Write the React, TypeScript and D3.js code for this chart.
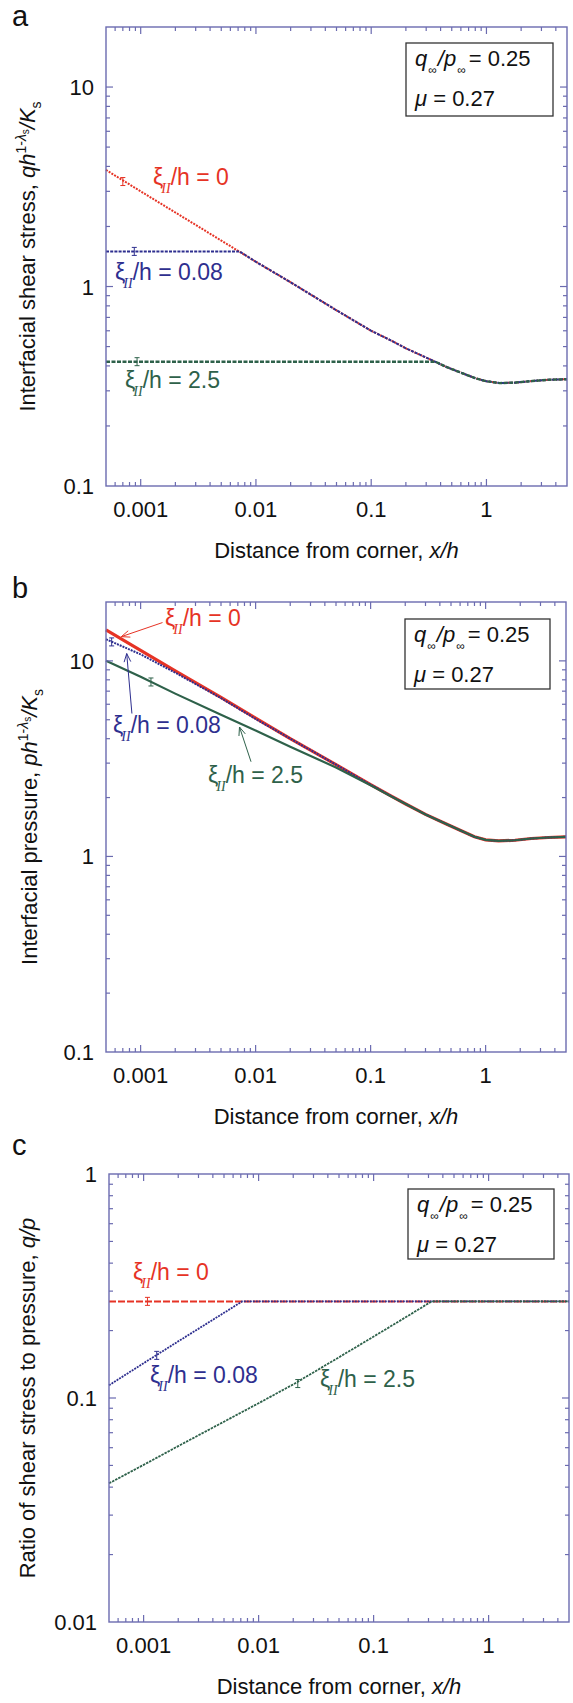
import React from "react";
import * as d3 from "d3";

// ---- data (x = distance from corner, x/h) ----

// a: interfacial shear stress
const aX0 = [0.0005, 0.001, 0.002, 0.005, 0.01, 0.02, 0.05, 0.1, 0.15, 0.2, 0.3, 0.45, 0.6, 0.8, 1, 1.3, 1.8, 2.5, 3.5, 5];
const aY0 = [3.84, 3.0, 2.35, 1.7, 1.33, 1.05, 0.76, 0.6, 0.535, 0.49, 0.44, 0.395, 0.37, 0.347, 0.335, 0.328, 0.33, 0.336, 0.341, 0.343];
const aX08 = [0.0005, 0.0072, 0.01, 0.02, 0.05, 0.1, 0.15, 0.2, 0.3, 0.45, 0.6, 0.8, 1, 1.3, 1.8, 2.5, 3.5, 5];
const aY08 = [1.5, 1.5, 1.33, 1.05, 0.76, 0.6, 0.535, 0.49, 0.44, 0.395, 0.37, 0.347, 0.335, 0.328, 0.33, 0.336, 0.341, 0.343];
const aX25 = [0.0005, 0.36, 0.45, 0.6, 0.8, 1, 1.3, 1.8, 2.5, 3.5, 5];
const aY25 = [0.42, 0.42, 0.395, 0.37, 0.347, 0.335, 0.328, 0.33, 0.336, 0.341, 0.343];

// b: interfacial pressure
const bX = [0.0005, 0.001, 0.002, 0.005, 0.01, 0.02, 0.05, 0.1, 0.15, 0.2, 0.3, 0.45, 0.6, 0.8, 1, 1.3, 1.8, 2.5, 3.5, 5];
const bY0 = [14.4, 11.3, 8.9, 6.5, 5.1, 4.0, 2.95, 2.33, 2.04, 1.86, 1.64, 1.47, 1.36, 1.26, 1.215, 1.2, 1.21, 1.235, 1.25, 1.26];
const bY08 = [12.9, 10.8, 8.7, 6.45, 5.05, 4.0, 2.95, 2.33, 2.04, 1.86, 1.64, 1.47, 1.36, 1.26, 1.215, 1.2, 1.21, 1.235, 1.25, 1.26];
const bY25 = [10.0, 8.3, 6.8, 5.3, 4.4, 3.64, 2.85, 2.31, 2.03, 1.86, 1.64, 1.47, 1.36, 1.26, 1.215, 1.2, 1.21, 1.235, 1.25, 1.26];

// c: ratio q/p
const cX0 = [0.0005, 5];
const cY0 = [0.27, 0.27];
const cX08 = [0.0005, 0.001, 0.002, 0.005, 0.0072, 5];
const cY08 = [0.114, 0.143, 0.179, 0.24, 0.27, 0.27];
const cX25 = [0.0005, 0.001, 0.002, 0.005, 0.01, 0.02, 0.05, 0.1, 0.2, 0.32, 5];
const cY25 = [0.0416, 0.0503, 0.061, 0.0784, 0.0948, 0.115, 0.152, 0.188, 0.233, 0.27, 0.27];

// error-bar glyphs sitting on the curves [x, y]
const aErr0 = [0.0007, 3.36];
const aErr08 = [0.00088, 1.5];
const aErr25 = [0.00093, 0.42];
const bErr08 = [0.00056, 12.5];
const bErr25 = [0.00123, 7.8];
const cErr0 = [0.00108, 0.27];
const cErr08 = [0.0013, 0.155];
const cErr25 = [0.0219, 0.116];

// arrows in b: [tailX, tailY, tipX, tipY]
const bArrow0 = [0.00155, 15.7, 0.00068, 13.3];
const bArrow08 = [0.00084, 5.38, 0.000757, 10.9];
const bArrow25 = [0.00912, 3.05, 0.00724, 4.59];

const xDomain: [number, number] = [0.0005, 5];
const xTickVals = [0.001, 0.01, 0.1, 1];
const xTickLabels = ["0.001", "0.01", "0.1", "1"];

const FRAME = "#6b6bb0";
const RED = "#e63325";
const BLUE = "#2e2f8f";
const GREEN = "#2e614a";
const FONT = "'Liberation Sans', Arial, Helvetica, sans-serif";
const SERIF = "'Liberation Serif', 'Times New Roman', serif";

type Series = { xs: number[]; ys: number[]; color: string; width: number; dash?: string };

const XiLabel = ({ x, y, color, value }: any) => (
  <text x={x} y={y} fill={color} fontSize={23} fontFamily={FONT}>
    <tspan>ξ</tspan>
    <tspan fontFamily={SERIF} fontStyle="italic" fontSize={14} dy={8} dx={-2}>II</tspan>
    <tspan dy={-8}>/h = {value}</tspan>
  </text>
);

const Legend = ({ x, y, w, h }: any) => (
  <g>
    <rect x={x} y={y} width={w} height={h} fill="#fff" stroke="#333" strokeWidth={1.3} />
    <text x={x + 9} y={y + 23} fontSize={22} fontFamily={FONT} fill="#111">
      <tspan fontStyle="italic">q</tspan>
      <tspan fontSize={12} dy={8} dx={1}>∞</tspan>
      <tspan dy={-8} dx={1} fontStyle="italic">/p</tspan>
      <tspan fontSize={12} dy={8} dx={1}>∞</tspan>
      <tspan dy={-8} dx={3}>= 0.25</tspan>
    </text>
    <text x={x + 9} y={y + 63} fontSize={22} fontFamily={FONT} fill="#111">
      <tspan fontStyle="italic">μ</tspan>
      <tspan> = 0.27</tspan>
    </text>
  </g>
);

function Panel(props: any) {
  const { left, right, top, bottom, yDomain, yTickVals, yTickLabels, series, errs, letter, letterY, yLabel, yLabelX, children } = props;
  const x = d3.scaleLog().domain(xDomain).range([left, right]);
  const y = d3.scaleLog().domain(yDomain).range([bottom, top]);
  const line = d3
    .line<[number, number]>()
    .x((d) => x(d[0]))
    .y((d) => y(d[1]));

  const isMajor = (v: number) => Math.abs(Math.log10(v) - Math.round(Math.log10(v))) < 1e-6;
  const xt = x.ticks().filter((v) => v > xDomain[0] * 1.001 && v < xDomain[1] * 0.999);
  const yt = y.ticks().filter((v) => v > yDomain[0] * 1.001 && v < yDomain[1] * 0.999);

  return (
    <g>
      <text x={12} y={letterY} fontSize={29} fontFamily={FONT} fill="#111">
        {letter}
      </text>
      {series.map((s: Series, i: number) => (
        <path
          key={i}
          d={line(s.xs.map((v, j) => [v, s.ys[j]] as [number, number])) || ""}
          fill="none"
          stroke={s.color}
          strokeWidth={s.width}
          strokeDasharray={s.dash}
        />
      ))}
      {errs.map((e: any, i: number) => {
        const ex = x(e.p[0]);
        const ey = y(e.p[1]);
        return (
          <path
            key={i}
            d={`M${ex},${ey - 4}V${ey + 4}M${ex - 2.5},${ey - 4}H${ex + 2.5}M${ex - 2.5},${ey + 4}H${ex + 2.5}`}
            stroke={e.color}
            strokeWidth={1}
            fill="none"
          />
        );
      })}
      <rect x={left} y={top} width={right - left} height={bottom - top} fill="none" stroke={FRAME} strokeWidth={1.4} />
      {xt.map((v, i) => {
        const len = isMajor(v) ? 7 : 4;
        return (
          <g key={i} stroke={FRAME} strokeWidth={1.2}>
            <line x1={x(v)} x2={x(v)} y1={bottom} y2={bottom - len} />
            <line x1={x(v)} x2={x(v)} y1={top} y2={top + len} />
          </g>
        );
      })}
      {yt.map((v, i) => {
        const len = isMajor(v) ? 7 : 4;
        return (
          <g key={i} stroke={FRAME} strokeWidth={1.2}>
            <line x1={left} x2={left + len} y1={y(v)} y2={y(v)} />
            <line x1={right} x2={right - len} y1={y(v)} y2={y(v)} />
          </g>
        );
      })}
      {xTickVals.map((v, i) => (
        <text key={i} x={x(v)} y={bottom + 31} textAnchor="middle" fontSize={22} fontFamily={FONT} fill="#111">
          {xTickLabels[i]}
        </text>
      ))}
      {yTickVals.map((v: number, i: number) => (
        <text key={i} x={left - 12} y={y(v) + 8} textAnchor="end" fontSize={22} fontFamily={FONT} fill="#111">
          {yTickLabels[i]}
        </text>
      ))}
      <text x={(left + right) / 2} y={bottom + 72} textAnchor="middle" fontSize={22} fontFamily={FONT} fill="#111">
        Distance from corner, <tspan fontStyle="italic">x/h</tspan>
      </text>
      <text
        transform={`translate(${yLabelX},${(top + bottom) / 2}) rotate(-90)`}
        textAnchor="middle"
        fontSize={22}
        fontFamily={FONT}
        fill="#111"
      >
        {yLabel}
      </text>
      {children && children(x, y)}
    </g>
  );
}

function Arrow({ a, x, y, color }: any) {
  const x1 = x(a[0]);
  const y1 = y(a[1]);
  const x2 = x(a[2]);
  const y2 = y(a[3]);
  const ang = Math.atan2(y2 - y1, x2 - x1);
  const L = 9;
  const s = 0.38;
  const hx1 = x2 - L * Math.cos(ang - s);
  const hy1 = y2 - L * Math.sin(ang - s);
  const hx2 = x2 - L * Math.cos(ang + s);
  const hy2 = y2 - L * Math.sin(ang + s);
  return (
    <g stroke={color} strokeWidth={1} fill="none">
      <line x1={x1} y1={y1} x2={x2} y2={y2} />
      <path d={`M${hx1},${hy1}L${x2},${y2}L${hx2},${hy2}`} />
    </g>
  );
}

const stressLabel = () => (
  <>
    <tspan fontStyle="italic">h</tspan>
    <tspan fontSize={14} dy={-9}>1-</tspan>
    <tspan fontSize={14} fontStyle="italic">λ</tspan>
    <tspan fontSize={10} dy={3}>s</tspan>
    <tspan dy={6} fontStyle="italic">/K</tspan>
    <tspan fontSize={14} dy={6}>s</tspan>
  </>
);

export default function App() {
  return (
    <svg
      width={573}
      height={1703}
      viewBox="0 0 573 1703"
      style={{ position: "absolute", left: 0, top: 0, background: "#fff" }}
    >
      <rect width={573} height={1703} fill="#fff" />
      <Panel
        letter="a"
        letterY={26}
        left={106}
        right={567}
        top={27}
        bottom={486}
        yDomain={[0.1, 20]}
        yTickVals={[10, 1, 0.1]}
        yTickLabels={["10", "1", "0.1"]}
        yLabelX={35}
        yLabel={
          <>
            Interfacial shear stress, <tspan fontStyle="italic">q</tspan>
            {stressLabel()}
          </>
        }
        series={[
          { xs: aX0, ys: aY0, color: RED, width: 2, dash: "2 1.2" },
          { xs: aX08, ys: aY08, color: BLUE, width: 2, dash: "3 1.2" },
          { xs: aX25, ys: aY25, color: GREEN, width: 2.4, dash: "4 1.5" },
        ]}
        errs={[
          { p: aErr0, color: RED },
          { p: aErr08, color: BLUE },
          { p: aErr25, color: GREEN },
        ]}
      >
        {() => (
          <g>
            <Legend x={406} y={43} w={147} h={73} />
            <XiLabel x={153} y={185} color={RED} value="0" />
            <XiLabel x={115} y={280} color={BLUE} value="0.08" />
            <XiLabel x={125} y={388} color={GREEN} value="2.5" />
          </g>
        )}
      </Panel>
      <Panel
        letter="b"
        letterY={598}
        left={106}
        right={566}
        top={602}
        bottom={1052}
        yDomain={[0.1, 20]}
        yTickVals={[10, 1, 0.1]}
        yTickLabels={["10", "1", "0.1"]}
        yLabelX={37}
        yLabel={
          <>
            Interfacial pressure, <tspan fontStyle="italic">p</tspan>
            {stressLabel()}
          </>
        }
        series={[
          { xs: bX, ys: bY0, color: RED, width: 3.2 },
          { xs: bX, ys: bY08, color: BLUE, width: 2, dash: "2 1" },
          { xs: bX, ys: bY25, color: GREEN, width: 2.2 },
        ]}
        errs={[
          { p: bErr08, color: BLUE },
          { p: bErr25, color: GREEN },
        ]}
      >
        {(x: any, y: any) => (
          <g>
            <Legend x={405} y={619} w={145} h={70} />
            <Arrow a={bArrow0} x={x} y={y} color={RED} />
            <Arrow a={bArrow08} x={x} y={y} color={BLUE} />
            <Arrow a={bArrow25} x={x} y={y} color={GREEN} />
            <XiLabel x={165} y={626} color={RED} value="0" />
            <XiLabel x={113} y={733} color={BLUE} value="0.08" />
            <XiLabel x={208} y={783} color={GREEN} value="2.5" />
          </g>
        )}
      </Panel>
      <Panel
        letter="c"
        letterY={1155}
        left={109}
        right={569}
        top={1174}
        bottom={1622}
        yDomain={[0.01, 1]}
        yTickVals={[1, 0.1, 0.01]}
        yTickLabels={["1", "0.1", "0.01"]}
        yLabelX={35}
        yLabel={
          <>
            Ratio of shear stress to pressure, <tspan fontStyle="italic">q/p</tspan>
          </>
        }
        series={[
          { xs: cX0, ys: cY0, color: RED, width: 2, dash: "7 2" },
          { xs: cX08, ys: cY08, color: BLUE, width: 1.8, dash: "2 1" },
          { xs: cX25, ys: cY25, color: GREEN, width: 1.8, dash: "2.5 1" },
        ]}
        errs={[
          { p: cErr0, color: RED },
          { p: cErr08, color: BLUE },
          { p: cErr25, color: GREEN },
        ]}
      >
        {() => (
          <g>
            <Legend x={408} y={1189} w={146} h={70} />
            <XiLabel x={133} y={1280} color={RED} value="0" />
            <XiLabel x={150} y={1383} color={BLUE} value="0.08" />
            <XiLabel x={320} y={1387} color={GREEN} value="2.5" />
          </g>
        )}
      </Panel>
    </svg>
  );
}
